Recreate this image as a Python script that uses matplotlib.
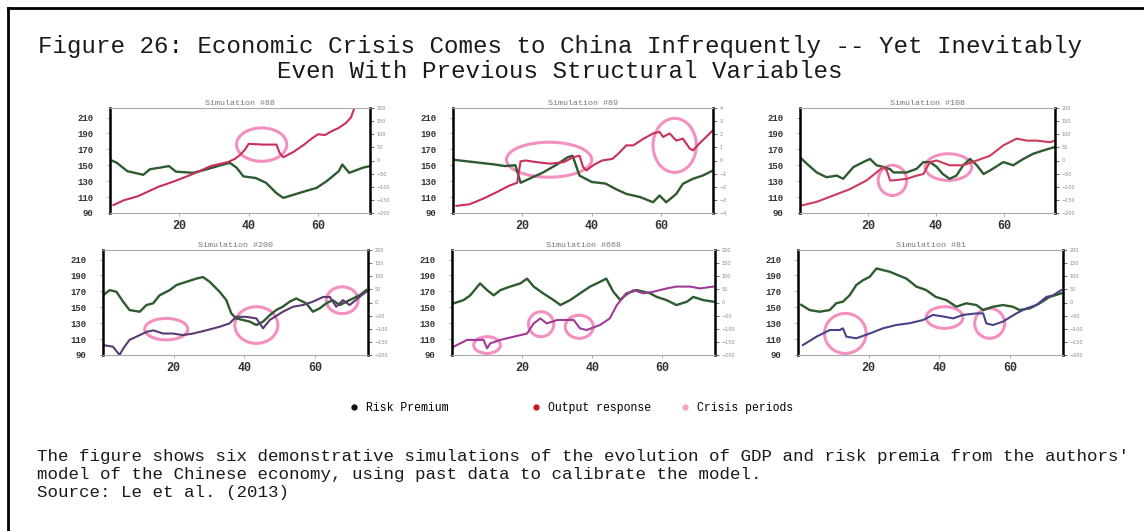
import matplotlib
matplotlib.use("Agg")
from matplotlib import pyplot as plt
from matplotlib.patches import Ellipse
from matplotlib.lines import Line2D
import numpy as np

MONO = "Liberation Mono"

# Simulation panel titles
titles = ["Simulation #88", "Simulation #89", "Simulation #108",
          "Simulation #200", "Simulation #668", "Simulation #81"]

# Risk premium paths (time, level)
rp_t = [
    [0, 2, 5, 9.6, 11.5, 14.4, 17, 19, 24, 28, 32.7, 34.6, 36.5, 38.5, 42, 45, 48, 50, 53, 56, 59.6, 62.5, 66, 67, 69, 73, 75],
    [0, 4, 8, 12, 15, 18, 19.5, 22, 26, 30, 33, 34.5, 36.5, 40, 44, 47, 50, 54, 57.7, 59.6, 61.5, 64.4, 66.3, 69.2, 72, 75],
    [0, 2, 4.9, 7.8, 10.8, 12.7, 15.7, 18.6, 20.6, 22.5, 24.5, 26.5, 27.5, 31.4, 34.3, 36.3, 38.2, 40.2, 42, 44, 46, 48, 50, 52, 54, 55.9, 59.8, 62.7, 65.7, 68.6, 71.6, 75],
    [0, 1.9, 3.8, 5.7, 7.5, 10.4, 12.3, 14.2, 16, 18.9, 20.8, 23.6, 26.4, 28.3, 30.2, 33, 34.9, 36.3, 37.7, 39.6, 41.5, 43.4, 45.3, 47.2, 49, 50.9, 52.8, 54.7, 57.5, 59.4, 61.3, 63.2, 65, 67, 69.8, 72.6, 74.5],
    [0.5, 3.3, 5.2, 8, 10, 11.9, 13.8, 16.6, 19.5, 21.4, 23.3, 26, 29, 30.9, 33.7, 36.5, 39.4, 42.2, 44, 46, 48, 49.8, 52.7, 56.5, 58.4, 61.2, 64, 67, 68.8, 71.7, 74.5],
    [0.9, 3.3, 6.1, 9, 10.8, 12.7, 14.6, 16.5, 18.4, 20.3, 22.2, 26, 30.7, 33.5, 36.3, 39, 42, 44.8, 47.6, 50.5, 52.4, 55.2, 58, 60.8, 62.7, 65.6, 68.4, 71.2, 74.5],
]
rp_v = [
    [157, 153, 142.6, 138, 145, 147, 149, 142, 140.5, 145, 151, 153, 147, 136, 134, 128, 115, 109, 113, 117, 121.6, 130, 142.6, 151, 140.5, 147, 149],
    [157, 155, 153, 151, 149, 150, 128, 133, 141, 151, 160, 162, 137, 129, 127, 120, 114, 110, 103.5, 112, 103.5, 114, 126.6, 133, 137, 143.5],
    [160, 152, 141, 135, 137, 133, 147.7, 154, 158, 150, 148, 145, 141, 141, 145.6, 154, 154, 148, 139, 133, 137, 150, 158, 150, 139, 143.5, 154, 150, 158, 164.5, 168.7, 173],
    [165, 171.6, 169.5, 157, 146.5, 144.4, 152.8, 155, 165, 171.6, 178, 182, 186, 188, 182, 169.5, 159, 142.3, 136, 134, 132, 127.7, 132, 140, 146.5, 150.7, 157, 161, 155, 144.4, 148.6, 155, 159, 152.8, 159, 165, 171.6],
    [155, 159, 165, 180, 171.6, 165, 171.6, 176, 180, 186, 176, 167.5, 159, 152.8, 159, 167.5, 176, 182, 186, 169.5, 159, 167.5, 171.6, 167.5, 163, 159, 152.8, 157, 163, 159, 157],
    [153, 146.5, 144.4, 146.5, 155, 157, 165, 178, 184, 188.3, 198.8, 194.6, 186, 176, 171.6, 163, 159, 150.7, 155, 152.8, 146.5, 150.7, 152.8, 150.7, 146.5, 148.6, 155, 163, 167.5],
]

# Output response paths (time, level)
out_t = [
    [1, 4, 8, 11, 14, 18, 21, 25, 29, 32, 34, 36, 37.5, 39, 40, 44, 48, 49, 50, 53, 56, 58, 60, 62, 64, 66, 68, 69.5, 70.5],
    [1, 4.8, 8.7, 12.5, 16.3, 18.5, 19.5, 21, 24, 28, 32, 34.6, 36.5, 37.5, 38.5, 40.4, 43, 46, 48, 50, 52, 55, 57.7, 59.6, 60.6, 62.5, 64.4, 66.3, 68.3, 69.2, 71, 73, 75],
    [0, 4.9, 9.8, 14.7, 19.6, 22.5, 24.5, 25.5, 26.5, 27.5, 31.4, 34.3, 36.3, 38.2, 40.2, 44, 48, 52, 55.9, 59.8, 63.7, 66.7, 69.6, 73.5, 75],
    [0, 2.8, 4.7, 5.7, 7.5, 10.4, 12.3, 14.2, 17, 19.8, 22.6, 25.5, 29.2, 33, 35.8, 37.7, 40.5, 43.4, 45.3, 47.2, 50.9, 53.8, 56.6, 59.4, 62.3, 64.2, 66, 67.9, 69.8, 72.6, 74.5],
    [0.5, 4.3, 7.1, 9, 10, 10.9, 13.8, 17.6, 21.4, 23.3, 25.2, 27, 30, 32.8, 34.7, 36.5, 38.4, 42.2, 45, 47, 48.9, 51.7, 54.6, 57.4, 61.2, 64, 67.9, 70.7, 74.5],
    [1.4, 5.2, 9, 11.8, 12.7, 13.7, 16.5, 20.3, 24, 27.8, 31.6, 35.4, 38.2, 41, 43.9, 46.7, 50.5, 52.4, 53.3, 55.2, 58, 61.8, 64.6, 67.5, 70.3, 72.2, 74.5],
]
out_v = [
    [100, 106, 111, 117, 123, 129, 134, 141, 149, 152, 154, 158, 163, 170, 177, 176, 176, 165, 160, 167, 176, 183, 189, 188, 193, 197, 203, 210, 222],
    [99, 101, 108, 116, 124.5, 128, 155, 156, 154, 152, 154, 160, 162, 148, 143.5, 150, 156, 158, 166, 175, 175, 183.5, 190, 192, 185.6, 190, 181, 183.5, 171, 168.7, 177, 185.6, 194],
    [99, 104, 112, 120, 131, 141, 148, 143.5, 131, 131, 133, 137, 139, 154, 156, 150, 150, 156, 162, 175, 183.5, 181, 181, 179, 181],
    [102.5, 100.5, 90, 98, 109, 115, 119, 121, 117, 117, 115, 117, 121, 125.5, 129.7, 138, 138, 136, 123.5, 134, 144.4, 150.7, 152.8, 157, 163, 163, 150.7, 159, 152.8, 163, 169.5],
    [100.5, 109, 109, 109, 98.4, 104.6, 109, 113, 117, 129.7, 136, 129.7, 134, 134, 134, 123.5, 121.4, 127.7, 136, 152.8, 163, 171.6, 167.5, 169.5, 173.7, 176, 176, 173.7, 176],
    [102.5, 113, 121.4, 121.4, 123.5, 113, 111, 117, 123.5, 127.7, 130, 134, 140.4, 138.5, 136, 140.4, 142.3, 142.3, 129.7, 127.7, 132, 142.3, 148.6, 152.8, 163, 165, 171.6],
]

# Crisis windows (t_start, t_end, level_low, level_high)
crises = [
    [(36.5, 51, 155, 197)],
    [(15.4, 40, 135, 179), (57.7, 70.2, 141, 209)],
    [(23, 31.4, 112, 150), (36.8, 50.5, 131, 164.5)],
    [(11.8, 24, 109, 136), (37.3, 49.5, 104.6, 150.7), (63.2, 72.2, 142, 175.7)],
    [(6.2, 13.8, 92, 113), (21.8, 29, 113, 144.4), (32.3, 40.3, 111, 140)],
    [(7.5, 19.3, 92, 142.3), (36.3, 46.7, 123.5, 150.7), (50, 58.5, 111, 148.6)],
]

left_ticks = [90, 110, 130, 150, 170, 190, 210]
x_ticks = [20, 40, 60]

# Right-hand scales: (half range, step)
right_scales = [(200, 50), (4, 1), (200, 50), (200, 50), (200, 50), (200, 50)]

legend_labels = ["Risk Premium", "Output response", "Crisis periods"]
legend_colors = ["#111111", "#cc1122", "#f5a0c8"]
legend_x = [357, 539, 688]

out_colors = ["#c8305a", "#c8305a", "#cc3a5c", "#5c3a70", "#a03a98", "#4a4288"]
rp_color = "#2e5a30"
pink = "#f27cb6"

# Axes boxes in pixels: left, right, top, bottom
boxes = [(110, 370, 108, 213), (453, 713, 108, 213), (800, 1055, 108, 213),
         (103, 368, 250, 355), (452, 715, 250, 355), (798, 1063, 250, 355)]

W, H = 1144, 531
fig = plt.figure(figsize=(W / 100, H / 100), dpi=100)

# Border lines on top and left
fig.add_artist(Line2D([8 / W, 1], [1 - 8 / H, 1 - 8 / H], color="black", lw=2))
fig.add_artist(Line2D([8 / W, 8 / W], [0, 1 - 8 / H], color="black", lw=2))

fig.text(0.4895, 1 - 47 / H, "Figure 26: Economic Crisis Comes to China Infrequently -- Yet Inevitably",
         ha="center", va="center", family=MONO, fontsize=17.4, color="#1a1a1a")
fig.text(0.4895, 1 - 72 / H, "Even With Previous Structural Variables",
         ha="center", va="center", family=MONO, fontsize=17.4, color="#1a1a1a")

ylo, yhi = 90, 222
ymid = (ylo + yhi) / 2
for i, (l, r, t, b) in enumerate(boxes):
    ax = fig.add_axes([l / W, 1 - b / H, (r - l) / W, (b - t) / H])
    ax.plot(rp_t[i], rp_v[i], color=rp_color, lw=1.7, solid_joinstyle="round")
    ax.plot(out_t[i], out_v[i], color=out_colors[i], lw=1.5, solid_joinstyle="round")
    for (t0, t1, v0, v1) in crises[i]:
        ax.add_patch(Ellipse(((t0 + t1) / 2, (v0 + v1) / 2), t1 - t0, v1 - v0,
                             fill=False, ec=pink, lw=2.2, alpha=0.85, clip_on=False))
    ax.set_xlim(0, 75)
    ax.set_ylim(ylo, yhi)
    ax.set_yticks(left_ticks)
    ax.set_yticklabels([str(v) for v in left_ticks], family=MONO, fontsize=6.5,
                       fontweight="bold", color="#333333")
    ax.set_xticks(x_ticks)
    ax.set_xticklabels([str(v) for v in x_ticks], family=MONO, fontsize=8.5,
                       fontweight="bold", color="#333333")
    ax.tick_params(axis="y", length=2, width=0.6, color="#999999", pad=10)
    ax.tick_params(axis="x", length=2, width=0.6, color="#999999", pad=3)
    for side in ("left", "right"):
        ax.spines[side].set_linewidth(1.8)
        ax.spines[side].set_color("black")
    for side in ("top", "bottom"):
        ax.spines[side].set_linewidth(0.8)
        ax.spines[side].set_color("#aaaaaa")
    ax.set_title(titles[i], family=MONO, fontsize=6, color="#777777", pad=2)

    half, step = right_scales[i]
    k = half / (yhi - ymid)
    sec = ax.secondary_yaxis("right", functions=(lambda y, k=k: (y - ymid) * k,
                                                  lambda s, k=k: s / k + ymid))
    sec.set_yticks(np.arange(-half, half + step / 2, step))
    sec.tick_params(length=3, width=0.6, color="#555555", labelsize=3.5,
                    labelcolor="#888888", pad=2)
    sec.spines["right"].set_visible(False)

# One legend entry per key, placed along the row
for lab, col, x in zip(legend_labels, legend_colors, legend_x):
    h = Line2D([], [], ls="none", marker="o", ms=3.5, color=col)
    fig.legend([h], [lab], loc="center left", bbox_to_anchor=((x - 8) / W, 1 - 408 / H),
               frameon=False, prop={"family": MONO, "size": 8.3},
               handlelength=0.8, handletextpad=0.7, borderpad=0, borderaxespad=0)

caption = ["The figure shows six demonstrative simulations of the evolution of GDP and risk premia from the authors'",
           "model of the Chinese economy, using past data to calibrate the model.",
           "Source: Le et al. (2013)"]
for j, line in enumerate(caption):
    fig.text(37 / W, 1 - (456 + 18 * j) / H, line, ha="left", va="center",
             family=MONO, fontsize=12.6, color="#1a1a1a")

fig.savefig("out.png", dpi=100, facecolor="white")
